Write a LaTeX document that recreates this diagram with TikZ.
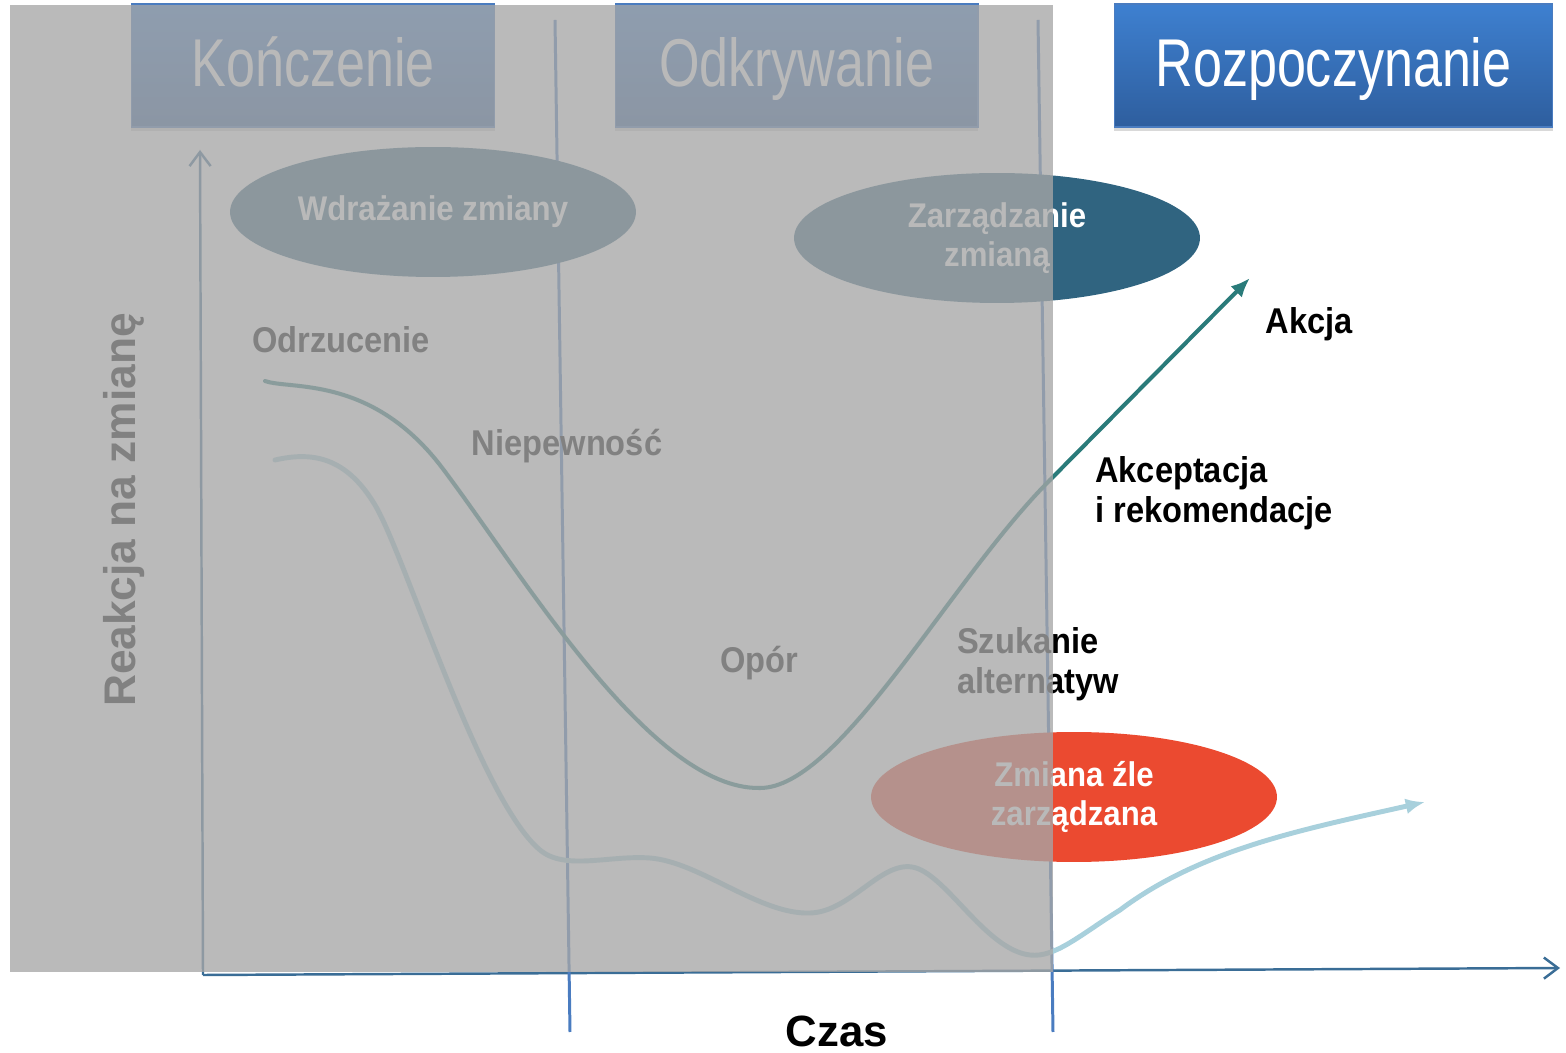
\documentclass[tikz,border=0pt]{standalone}
\usepackage{fontspec}
\setmainfont{Liberation Sans}
\newfontfamily\headfont[FakeStretch=0.77]{Liberation Sans}
\newfontfamily\labelfont[FakeStretch=0.91]{Liberation Sans}
\usetikzlibrary{arrows.meta,shapes.geometric,shadows}
\definecolor{phaseblue}{RGB}{62,128,208}
\definecolor{phasedark}{RGB}{46,94,158}
\definecolor{phaseline}{RGB}{74,124,192}
\definecolor{axisblue}{RGB}{58,109,150}
\definecolor{curveteal}{RGB}{42,123,122}
\definecolor{curvelight}{RGB}{168,208,220}
\definecolor{ovalteal}{RGB}{48,100,128}
\definecolor{ovalred}{RGB}{235,74,48}
\definecolor{veil}{RGB}{166,166,166}

\tikzset{
  phasebox/.style={draw=phaseline, line width=0.6pt, top color=phaseblue, bottom color=phasedark,
    minimum height=2.46cm, inner sep=0pt, text=white, text height=23.5pt, text depth=0pt,
    font=\headfont\fontsize{38.5}{40}\selectfont,
    drop shadow={shadow xshift=0pt, shadow yshift=-2.5pt, opacity=0.3}},
  oval/.style={ellipse, minimum width=8.12cm, minimum height=2.6cm, inner sep=0pt,
    text=white, align=center, font=\labelfont\bfseries\fontsize{19.5}{21.8}\selectfont},
  stage/.style={text=black, align=left, font=\labelfont\bfseries\fontsize{20.4}{23}\selectfont},
  divider/.style={phaseline, line width=1.7pt},
  axis/.style={axisblue, line width=1.4pt, -{Straight Barb[length=8pt,width=12pt]}},
}

\begin{document}
\begin{tikzpicture}[x=0.02cm, y=-0.02cm]
 \useasboundingbox (0,0) rectangle (1566,1053);

 % axes
 \coordinate (origin) at (203,975);
 \coordinate (ytip) at (200,150);
 \coordinate (xtip) at (1560,968);
 \draw[axis] (origin) -- (ytip);
 \draw[axis] (origin) -- (xtip);

 % phase borders
 \coordinate (b1top) at (555,20);
 \coordinate (b1bot) at (570,1032);
 \coordinate (b2top) at (1038,20);
 \coordinate (b2bot) at (1053,1032);
 \draw[divider] (b1top) -- (b1bot);
 \draw[divider] (b2top) -- (b2bot);

 % ovals
 \node[oval, fill=ovalteal] (wdrazanie) at (433,212) {Wdrażanie zmiany};
 \node[oval, fill=ovalteal] (zarzadzanie) at (997,238) {Zarządzanie\\zmianą};
 \node[oval, fill=ovalred] (zle) at (1074,797) {Zmiana źle\\zarządzana};

 % curves
 \draw[curvelight, line width=2.8pt, line cap=round, -{Latex[length=11pt,width=9pt]}]
   (275,460) .. controls (310,452) and (345,455) .. (375,505)
   .. controls (405,555) and (480,800) .. (540,850)
   .. controls (565,871) and (610,855) .. (650,858)
   .. controls (700,862) and (760,915) .. (810,913)
   .. controls (850,912) and (880,862) .. (912,867)
   .. controls (945,872) and (985,950) .. (1030,955)
   .. controls (1055,958) and (1080,935) .. (1120,910)
   .. controls (1200,850) and (1300,830) .. (1425,802);
 \draw[curveteal, line width=2.3pt, line cap=round]
   (265,381) .. controls (290,390) and (370,375) .. (440,465)
   .. controls (520,570) and (650,790) .. (760,788)
   .. controls (840,788) and (950,580) .. (1050,480);
 \coordinate (akcjastart) at (1050,480);
 \coordinate (akcjatip) at (1250,278);
 \draw[curveteal, line width=2.3pt, line cap=round, -{Latex[length=11pt,width=9pt]}]
   (akcjastart) -- (akcjatip);

 % stage labels
 \node[stage] (odrzucenie) at (341,340) {Odrzucenie};
 \node[stage] (niepewnosc) at (567,446) {Niepewność};
 \node[stage] (opor) at (759,663) {Opór};
 \node[stage, anchor=west] (szukanie) at (951,664) {Szukanie\\alternatyw};
 \node[stage, anchor=west] (akceptacja) at (1089,493) {Akceptacja\\i rekomendacje};
 \node[stage] (akcja) at (1309,324) {Akcja};
 \node[rotate=90, font=\bfseries\fontsize{25.2}{27}\selectfont] (reakcja) at (124,510) {Reakcja na zmianę};
 \node[inner sep=0pt, font=\bfseries\fontsize{24.9}{27}\selectfont] (czas) at (837,1031) {Czas};

 % phase headers
 \node[phasebox, minimum width=7.28cm] (konczenie) at (313,65.5) {Kończenie};
 \node[phasebox, minimum width=7.26cm] (odkrywanie) at (796.5,65.5) {Odkrywanie};
 \node[phasebox, minimum width=8.78cm] (rozpoczynanie) at (1333.5,65.5) {Rozpoczynanie};

 % grey veil over the past phases
 \fill[veil, fill opacity=0.78] (10,5) rectangle (1053,972);
\end{tikzpicture}
\end{document}
